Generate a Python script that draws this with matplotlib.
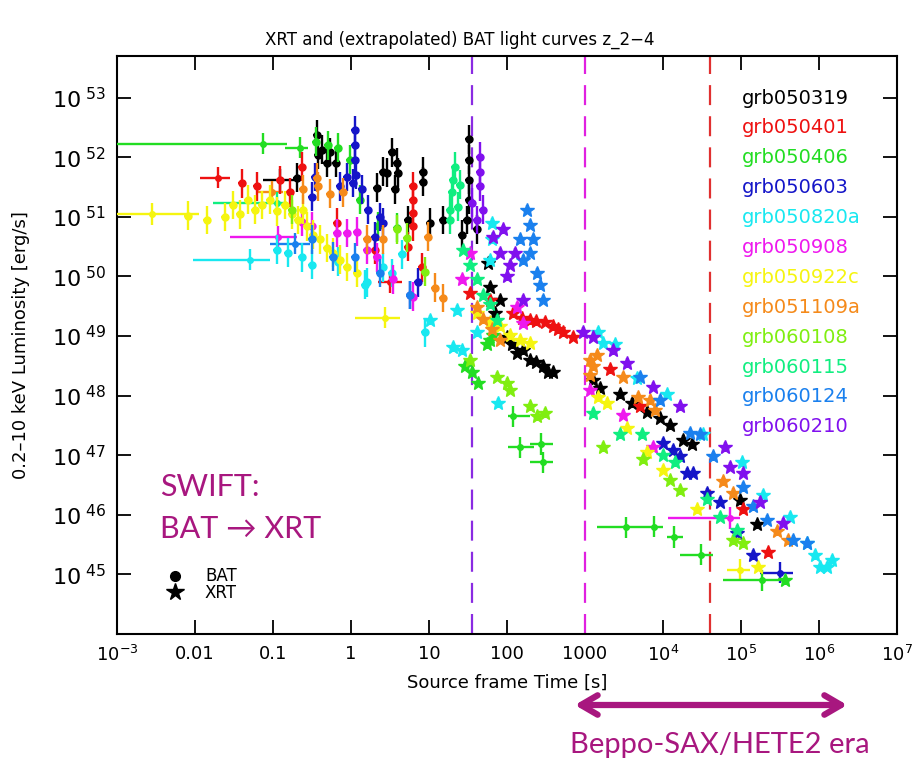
import numpy as np
import matplotlib.pyplot as plt
from matplotlib.patches import FancyArrowPatch

# all values are log10(t [s]) and log10(L [erg/s])

# grb050319
bat_t_050319 = [-0.44, -0.37, -0.27, -0.19, -0.31, -0.42, -0.69, 0.33, 0.41, 0.46, 0.53, 0.59, 0.60, 0.56,
                0.73, 0.92, 0.92, 1.01, 1.18, 1.51, 1.51, 1.51, 1.51, 1.49, 1.42, 1.62]
bat_L_050319 = [52.38, 52.13, 52.09, 51.91, 51.91, 52.04, 51.66, 51.49, 51.76, 51.74, 52.08, 51.91, 51.74, 51.46,
                50.95, 51.76, 51.59, 50.90, 50.95, 52.30, 51.96, 51.62, 51.29, 50.95, 50.70, 50.79]
xrt_t_050319 = [1.76, 1.78, 1.85, 1.91, 2.00, 2.06, 2.13, 2.21, 2.29, 2.37, 2.46, 2.53, 2.59, 3.10, 3.19, 3.45,
                3.60, 3.79, 3.96, 4.09, 4.26, 4.37, 4.99, 5.21]
xrt_L_050319 = [50.23, 49.83, 49.39, 49.61, 48.99, 48.86, 48.72, 48.77, 48.60, 48.57, 48.49, 48.40, 48.39, 48.27,
                48.13, 48.02, 47.88, 47.73, 47.63, 47.51, 47.26, 47.18, 46.25, 45.84]

# grb050401
bat_t_050401 = [-1.40, -1.21, -0.91, -0.63, -0.78, -0.18, 0.79, 0.79, 0.79, 0.79, 0.73, 0.91, 0.31]
bat_L_050401 = [51.56, 51.51, 51.62, 51.84, 51.41, 50.90, 51.51, 51.29, 51.07, 50.84, 50.50, 50.15, 50.45]
xrt_t_050401 = [1.53, 1.78, 2.08, 2.19, 2.29, 2.37, 2.49, 2.59, 2.66, 2.72, 2.85, 3.32, 3.71, 5.03, 5.35]
xrt_L_050401 = [49.73, 49.61, 49.39, 49.31, 49.27, 49.25, 49.24, 49.16, 49.12, 49.07, 48.99, 48.44, 47.82, 46.09, 45.37]

# grb050406
bat_t_050406 = [-0.45, -0.17, -0.30, -0.01, 0.12, 0.35, 0.59]
bat_L_050406 = [52.26, 52.16, 52.20, 51.96, 51.29, 50.84, 50.82]
xrt_t_050406 = [1.46, 1.55, 1.63, 1.74, 1.78, 1.82, 5.56]
xrt_L_050406 = [48.49, 48.39, 48.22, 48.86, 48.94, 49.02, 44.90]

# grb050603
bat_t_050603 = [0.05, 0.05, 0.05, 0.06, 0.03, -0.05, -0.14, -0.46, -0.50, 0.22, 0.37, 0.41, 0.31, 0.86, 0.76, 0.14]
bat_L_050603 = [52.46, 52.21, 51.96, 51.71, 51.57, 51.67, 51.51, 51.67, 51.34, 51.12, 51.00, 50.90, 50.67, 49.90,
                49.69, 51.46]
xrt_t_050603 = [4.00, 4.13, 4.22, 4.31, 4.38, 4.56, 4.73, 4.95, 5.15]
xrt_L_050603 = [47.21, 47.09, 46.98, 46.71, 46.71, 46.37, 46.22, 45.70, 45.33]

# grb050820a
bat_t_050820a = [-0.95, -0.81, -0.63, -0.50, -0.17, 0.18, 0.41, 0.53, 0.65, 0.95, 0.21]
bat_L_050820a = [50.45, 50.40, 50.32, 50.20, 50.25, 49.86, 50.15, 50.06, 50.37, 49.06, 49.90]
xrt_t_050820a = [1.81, 1.81, 1.78, 1.36, 1.31, 1.42, 1.62, 1.88, 1.01, 3.17, 3.23, 3.38, 3.67, 4.05, 4.51, 5.01,
                 5.28, 5.63, 5.85, 5.95, 6.01, 6.10, 6.17]
xrt_L_050820a = [50.90, 50.62, 50.28, 49.44, 48.82, 48.77, 49.06, 47.88, 49.27, 49.07, 48.89, 48.86, 48.30, 48.02,
                 47.35, 46.88, 46.34, 45.97, 45.53, 45.33, 45.13, 45.13, 45.25]

# grb050908
bat_t_050908 = [-0.63, -0.50, -0.18, -0.05, 0.08, 0.21, 0.33, 0.54, 0.79]
bat_L_050908 = [50.92, 50.84, 50.73, 50.73, 50.75, 50.45, 50.32, 49.95, 49.66]
xrt_t_050908 = [1.42, 1.53, 2.13, 2.21, 3.06, 3.49, 3.87]
xrt_L_050908 = [49.95, 50.40, 49.49, 49.22, 48.10, 47.68, 47.14]

# grb050922c
bat_t_050922c = [-2.09, -1.85, -1.62, -1.51, -1.42, -1.32, -1.23, -1.14, -1.04, -0.95, -0.85, -0.76, -0.68,
                 -0.62, -0.56, -0.49, -0.40, -0.31, -0.23, -0.14, -0.05, 0.08]
bat_L_050922c = [51.02, 50.95, 51.00, 51.20, 51.04, 51.29, 51.12, 51.20, 51.29, 51.09, 51.20, 51.04, 50.95,
                 51.12, 50.84, 50.70, 50.62, 50.48, 50.40, 50.28, 50.16, 50.06]
xrt_t_050922c = [1.62, 1.78, 1.91, 2.04, 2.17, 2.29, 3.17, 3.28, 3.54, 3.79, 4.00, 4.44, 5.22]
xrt_L_050922c = [49.39, 49.24, 49.16, 49.02, 48.94, 48.89, 47.97, 47.88, 47.46, 47.06, 46.76, 46.09, 45.13]

# grb051109a
bat_t_051109a = [-0.44, -0.62, -0.42, -0.27, -0.10, 0.21, 0.41, 0.99, 1.08, 1.18]
bat_L_051109a = [51.66, 51.46, 51.51, 51.39, 51.41, 50.62, 50.62, 50.67, 49.81, 49.64]
xrt_t_051109a = [1.62, 1.69, 1.81, 1.91, 3.06, 3.10, 3.06, 3.15, 3.49, 3.68, 3.83, 3.90, 4.77, 4.90, 5.46, 5.60]
xrt_L_051109a = [49.49, 49.28, 49.11, 48.94, 48.60, 48.49, 48.35, 48.69, 48.32, 47.98, 47.93, 47.76, 46.56, 46.37,
                 45.72, 45.58]

# grb060108
bat_t_060108 = [-0.76, 0.59, 0.95, 0.72]
bat_L_060108 = [51.12, 50.79, 50.08, 50.65]
xrt_t_060108 = [1.53, 1.87, 2.00, 2.04, 2.29, 2.38, 2.49, 3.23, 3.74, 4.09, 4.22, 4.90, 5.03]
xrt_L_060108 = [48.60, 48.32, 48.22, 48.10, 47.82, 47.65, 47.71, 47.14, 46.93, 46.59, 46.42, 45.58, 45.53]

# grb060115
bat_t_060115 = [1.33, 1.31, 1.29, 1.27, 1.27, 1.37, 1.40]
bat_L_060115 = [51.84, 51.62, 51.41, 51.12, 50.95, 51.17, 51.54]
xrt_t_060115 = [1.44, 1.53, 1.62, 1.69, 1.78, 1.87, 3.10, 3.45, 3.73, 4.00, 4.15, 4.56, 4.73, 4.95]
xrt_L_060115 = [50.45, 50.20, 49.95, 49.69, 49.53, 49.27, 47.71, 47.35, 47.35, 47.01, 46.88, 46.26, 45.97, 45.75]

# grb060124
bat_t_060124 = [-0.23, 0.05, 0.37, 0.76, -0.50]
bat_L_060124 = [50.33, 50.32, 50.06, 49.69, 50.62]
xrt_t_060124 = [2.26, 2.29, 2.33, 2.29, 2.38, 2.42, 2.46, 2.17, 2.21, 3.71, 3.96, 4.35, 4.47, 4.64, 5.03, 5.15,
                5.33, 5.67, 5.85]
xrt_L_060124 = [51.12, 50.87, 50.62, 50.40, 50.06, 49.86, 49.61, 50.62, 50.28, 48.32, 47.93, 47.38, 47.35, 46.98,
                46.47, 46.14, 45.92, 45.58, 45.53]

# grb060210
bat_t_060210 = [1.65, 1.65, 1.65, 1.62, 1.55, 1.69]
bat_L_060210 = [52.01, 51.76, 51.51, 50.95, 51.24, 51.12]
xrt_t_060210 = [1.82, 1.91, 2.00, 2.10, 2.21, 1.95, 2.04, 2.97, 3.10, 3.36, 3.54, 3.87, 4.22, 4.79, 4.86, 5.03,
                5.24, 5.54]
xrt_L_060210 = [50.67, 50.40, 50.00, 50.40, 49.61, 50.79, 50.20, 49.07, 48.99, 48.77, 48.55, 48.15, 47.82, 47.14,
                46.81, 46.71, 46.22, 45.87]

# points with wide time bins: name, log t, log L, log t_min, log t_max
wide_grb = ["grb050406", "grb050406", "grb050319", "grb050401", "grb050401", "grb050820a", "grb050908",
            "grb050922c", "grb050922c", "grb051109a", "grb060124", "grb060115", "grb050908",
            "grb050406", "grb050406", "grb050406", "grb050406", "grb050406", "grb050406", "grb050406",
            "grb050406", "grb050922c", "grb050603", "grb050406"]
wide_t = [-1.13, -0.65, -0.91, -1.71, 0.50, -1.29, -0.94, -2.55, 0.44, -1.01, -0.72, -0.95, 4.86,
          2.08, 2.17, 2.44, 2.46, 3.53, 3.88, 4.14, 4.49, 4.99, 5.50, 5.27]
wide_L = [52.23, 52.16, 51.62, 51.66, 49.90, 50.28, 50.67, 51.05, 49.31, 51.42, 50.55, 51.24, 45.95,
          47.65, 47.13, 47.19, 46.88, 45.79, 45.80, 45.63, 45.33, 45.08, 45.03, 44.90]
wide_tmin = [-3.0, -0.84, -1.13, -1.94, 0.35, -2.03, -1.55, -3.0, 0.05, -1.20, -1.04, -1.77, 4.06,
             2.01, 2.01, 2.30, 2.30, 3.15, 3.75, 4.05, 4.22, 4.82, 5.24, 4.77]
wide_tmax = [-0.82, -0.55, -0.69, -1.55, 0.65, -1.04, -0.69, -1.95, 0.63, -0.87, -0.53, -0.82, 4.99,
             2.29, 2.35, 2.59, 2.59, 3.75, 4.00, 4.25, 4.64, 5.12, 5.67, 5.50]

names = ["grb050319", "grb050401", "grb050406", "grb050603", "grb050820a", "grb050908",
         "grb050922c", "grb051109a", "grb060108", "grb060115", "grb060124", "grb060210"]
colors = ["#000000", "#ee1111", "#22dd22", "#1515c8", "#18e8f0", "#ee18ee",
          "#f5f510", "#f58a1a", "#80ee10", "#10ee80", "#1a80ee", "#8010ee"]
bat_t = [bat_t_050319, bat_t_050401, bat_t_050406, bat_t_050603, bat_t_050820a, bat_t_050908,
         bat_t_050922c, bat_t_051109a, bat_t_060108, bat_t_060115, bat_t_060124, bat_t_060210]
bat_L = [bat_L_050319, bat_L_050401, bat_L_050406, bat_L_050603, bat_L_050820a, bat_L_050908,
         bat_L_050922c, bat_L_051109a, bat_L_060108, bat_L_060115, bat_L_060124, bat_L_060210]
xrt_t = [xrt_t_050319, xrt_t_050401, xrt_t_050406, xrt_t_050603, xrt_t_050820a, xrt_t_050908,
         xrt_t_050922c, xrt_t_051109a, xrt_t_060108, xrt_t_060115, xrt_t_060124, xrt_t_060210]
xrt_L = [xrt_L_050319, xrt_L_050401, xrt_L_050406, xrt_L_050603, xrt_L_050820a, xrt_L_050908,
         xrt_L_050922c, xrt_L_051109a, xrt_L_060108, xrt_L_060115, xrt_L_060124, xrt_L_060210]

purple_col = "#A8177F"

fig = plt.figure(figsize=(9.2, 7.6), dpi=100)
ax = fig.add_axes([117/920, 1-634/760, 780/920, 578/760])


def draw(tl, Ll, col, marker, ms, dx, dy, z):
    t = 10**np.array(tl)
    L = 10**np.array(Ll)
    xerr = [t - t/10**dx, t*10**dx - t]
    yerr = [L - L/10**dy, L*10**dy - L]
    ax.errorbar(t, L, xerr=xerr, yerr=yerr, fmt=marker, color=col, ms=ms, mec=col,
                elinewidth=1.7, capsize=0, zorder=z)


for i, name in enumerate(names):
    draw(bat_t[i], bat_L[i], colors[i], "o", 5, 0.05, 0.24, 3+i)
    draw(xrt_t[i], xrt_L[i], colors[i], "*", 10, 0.05, 0.08, 3+i)

for g, tl, Ll, lo, hi in zip(wide_grb, wide_t, wide_L, wide_tmin, wide_tmax):
    col = colors[names.index(g)]
    t = 10**tl
    ax.errorbar([t], [10**Ll], xerr=[[t - 10**lo], [10**hi - t]],
                yerr=[[10**Ll - 10**(Ll-0.18)], [10**(Ll+0.18) - 10**Ll]],
                fmt="o", ms=4, color=col, elinewidth=1.7, capsize=0, zorder=3)

# reference epochs
for xv, c in [(35.5, "#8a2be2"), (1000, "#e020e0"), (4.0e4, "#e03030")]:
    ax.axvline(xv, color=c, ls=(0, (9, 5)), lw=1.6, zorder=2)

ax.set_xscale("log")
ax.set_yscale("log")
ax.set_xlim(1e-3, 1e7)
ax.set_ylim(1e44, 5e53)
ax.set_xticks([10.0**k for k in range(-3, 8)])
ax.set_xticklabels([r"$10^{-3}$", "0.01", "0.1", "1", "10", "100", "1000",
                    r"$10^4$", r"$10^5$", r"$10^6$", r"$10^7$"], fontsize=13)
ax.set_yticks([10.0**k for k in range(45, 54)])
ax.set_yticklabels([r"$10^{\ %d}$" % k for k in range(45, 54)], fontsize=16)
ax.tick_params(which="both", direction="in", top=True, right=True, width=1.3)
ax.tick_params(which="major", length=10, pad=8)
ax.tick_params(which="minor", length=5)
for s in ax.spines.values():
    s.set_linewidth(1.5)

ax.set_xlabel("Source frame Time [s]", fontsize=13, labelpad=6)
ax.set_ylabel("0.2\u201310 keV Luminosity [erg/s]", fontsize=13)
ax.yaxis.set_label_coords(-0.112, 0.5)
fig.text(0.5, 1-40/760, "XRT and (extrapolated) BAT light curves z_2\u22124", ha="center", va="center", fontsize=12)

for i, name in enumerate(names):
    fig.text(742/920, 1-(98+29.9*i)/760, name, color=colors[i], fontsize=14, va="center", ha="left")

fig.text(160/920, 1-487/760, "SWIFT:", color=purple_col, fontsize=22, family="Lato", va="center")
fig.text(160/920, 1-529/760, "BAT \u2192 XRT", color=purple_col, fontsize=22, family=["Lato", "DejaVu Sans"], va="center")

ax.plot([0.0056], [10**44.98], "o", color="black", ms=7, zorder=10)
ax.plot([0.0056], [10**44.70], "*", color="black", ms=13, zorder=10)
fig.text(205/920, 1-576/760, "BAT", fontsize=12, va="center")
fig.text(205/920, 1-593/760, "XRT", fontsize=12, va="center")

arrow = FancyArrowPatch((572/920, 1-705/760), (850/920, 1-705/760), transform=fig.transFigure,
                        arrowstyle="<->,head_length=12,head_width=7", color=purple_col, lw=4.5,
                        mutation_scale=1, capstyle="round", joinstyle="round")
fig.patches.append(arrow)
fig.text(720/920, 1-745/760, "Beppo-SAX/HETE2 era", color=purple_col, fontsize=21, family="Lato",
         ha="center", va="center")

fig.savefig("out.png", dpi=100)
